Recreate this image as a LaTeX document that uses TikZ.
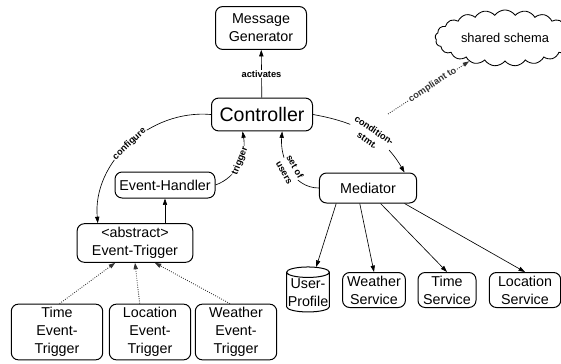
\documentclass[tikz,border=0pt]{standalone}
\usepackage{fontspec}
\setmainfont{Liberation Sans}
\usetikzlibrary{arrows.meta,shapes.geometric,shapes.symbols}

\begin{document}
\begin{tikzpicture}[x=0.7pt, y=-0.7pt, >={Triangle[length=4.5pt,width=3pt]},
	box/.style={draw, rounded corners=5pt, line width=0.7pt, align=center, inner sep=1pt, font=\fontsize{10}{12.5}\selectfont},
	lbl/.style={fill=white, inner sep=0.5pt, align=center, font=\fontsize{6.5}{8.5}\selectfont\bfseries},
	link/.style={->, line width=0.45pt},
	extends/.style={->, densely dotted, line width=0.6pt, black!80}]
	\useasboundingbox (0,0) rectangle (561,363);

	\node[box, minimum width=63.7pt, minimum height=30pt] (gen) at (261,28) {Message\\Generator};
	\node[box, minimum width=70.7pt, minimum height=23pt, font=\fontsize{13.7}{16}\selectfont] (ctrl) at (262,114.5) {Controller};
	\node[cloud, draw, cloud puffs=21, cloud puff arc=110, aspect=3, line width=0.6pt, minimum width=94pt, minimum height=31.5pt, font=\fontsize{9}{11}\selectfont] (schema) at (505,38) {shared schema};
	\node[box, minimum width=70pt, minimum height=18.2pt] (handler) at (165,185) {Event-Handler};
	\node[box, minimum width=68pt, minimum height=21pt] (med) at (368,188) {Mediator};
	\node[box, minimum width=81pt, minimum height=27pt] (trig) at (135,243) {<abstract>\\Event-Trigger};

	\node[box, minimum width=64pt, minimum height=39pt] (tET) at (57,332) {Time\\Event-\\Trigger};
	\node[box, minimum width=57pt, minimum height=39pt] (lET) at (150,332) {Location\\Event-\\Trigger};
	\node[box, minimum width=57pt, minimum height=39pt] (wET) at (236,332) {Weather\\Event-\\Trigger};

	\node[cylinder, draw, shape border rotate=90, aspect=0.25, line width=0.7pt, align=center, inner sep=0.5pt, minimum width=30pt, minimum height=31.5pt, font=\fontsize{10}{12.5}\selectfont] (user) at (308,293) {User-\\Profile};
	\node[box, minimum width=44pt, minimum height=24.5pt] (wS) at (374,290) {Weather\\Service};
	\node[box, minimum width=40.6pt, minimum height=24.5pt] (tS) at (447,290) {Time\\Service};
	\node[box, minimum width=50pt, minimum height=24.5pt] (lS) at (525,290) {Location\\Service};

	\coordinate (cs) at (388,114);

	% controller links
	\draw[link] (ctrl) -- node[lbl] {activates} (gen);
	\draw[link] (ctrl.west) to[out=175, in=95] node[lbl, sloped, pos=0.5] {configure} (trig.152);
	\draw[link] (handler.east) to[out=20, in=-80] node[lbl, sloped, pos=0.55] {trigger} (ctrl.221);
	\draw[link] (med.west) to[out=180, in=-95] node[lbl, sloped, pos=0.5] {set of\\users} (ctrl.-40);
	\draw[link] (ctrl.east) to[out=-10, in=120] node[lbl, sloped, pos=0.55] {condition-\\stmt.} (med.23);
	\draw[extends] (cs) -- node[lbl, sloped, pos=0.55] {compliant to} (schema);

	% triggers
	\draw[link] (trig.north -| handler.south) -- (handler.south);
	\draw[extends] (tET.85) -- (trig.225);
	\draw[extends] (lET.110) -- (trig.south);
	\draw[extends] (wET.102) -- (trig.-45);

	% services
	\draw[link] (med.206) -- (user);
	\draw[link] (med.242) -- (wS.north);
	\draw[link] (med.309) -- (tS.north);
	\draw[link] (med.337) -- (lS.north);
\end{tikzpicture}
\end{document}
